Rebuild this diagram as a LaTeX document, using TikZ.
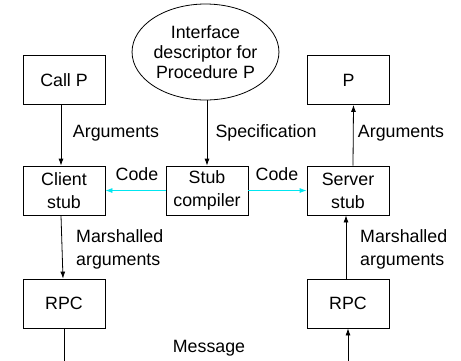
\documentclass[tikz,border=0pt]{standalone}
\usepackage{fontspec}
\setmainfont{Liberation Sans}
\usetikzlibrary{arrows.meta,shapes.geometric}
\definecolor{cyanline}{RGB}{0,230,240}
\begin{document}
\begin{tikzpicture}[x=1pt,y=-1pt,
  txt/.style={font=\fontsize{17.8}{23}\selectfont},
  box/.style={draw,line width=0.8pt,minimum width=82pt,minimum height=49pt,inner sep=0pt,align=center,txt},
  lbl/.style={inner sep=0pt,txt},
  arr/.style={line width=0.8pt,-{Latex[length=7pt,width=5pt]}},
  carr/.style={draw=cyanline,line width=0.8pt,-{Latex[length=7pt,width=5pt]}}]
\useasboundingbox (0,0) rectangle (461,360);
\node[box] (callp) at (64,80) {Call P};
\node[box] (p) at (348.5,80) {P};
\node[draw,ellipse,line width=0.8pt,minimum width=125pt,minimum height=96pt,inner sep=0pt,align=center,font=\fontsize{17.8}{20}\selectfont] (idesc) at (205.5,52) {Interface\\descriptor for\\Procedure P};
\node[box] (cstub) at (64,190.5) {Client\\stub};
\node[box] (comp) at (207,190.5) {Stub\\compiler};
\node[box] (sstub) at (348,190.5) {Server\\stub};
\node[box] (rpcl) at (64,303.5) {RPC};
\node[box] (rpcr) at (348,303.5) {RPC};
\coordinate (botl) at (64,362);
\coordinate (botr) at (348,362);
\draw[arr] ([xshift=-3pt]callp.south) -- ([xshift=-3pt]cstub.north);
\draw[arr] (idesc.south -| comp.north) -- (comp.north);
\draw[arr] ([xshift=5pt]sstub.north) -- ([xshift=5pt]p.south);
\draw[carr] (comp.west) -- (cstub.east);
\draw[carr] (comp.east) -- (sstub.east -| sstub.west);
\draw[arr] ([xshift=-3pt]cstub.south) -- ([xshift=-1pt]rpcl.north);
\draw[arr] ([xshift=-2pt]rpcr.north) -- ([xshift=-2pt]sstub.south);
\draw[line width=0.8pt] (rpcl.south) -- (botl);
\draw[arr] (botr) -- (rpcr.south);
\node[lbl] (la1) at (116,133) {Arguments};
\node[lbl] (la2) at (266,133) {Specification};
\node[lbl] (la3) at (401,133) {Arguments};
\node[lbl] (lc1) at (137,174) {Code};
\node[lbl] (lc2) at (277,174) {Code};
\node[lbl,align=left,anchor=west] (lm1) at (76,249) {Marshalled\\arguments};
\node[lbl,align=left,anchor=west] (lm2) at (360,249) {Marshalled\\arguments};
\node[lbl] (lmsg) at (209,348) {Message};
\end{tikzpicture}
\end{document}
